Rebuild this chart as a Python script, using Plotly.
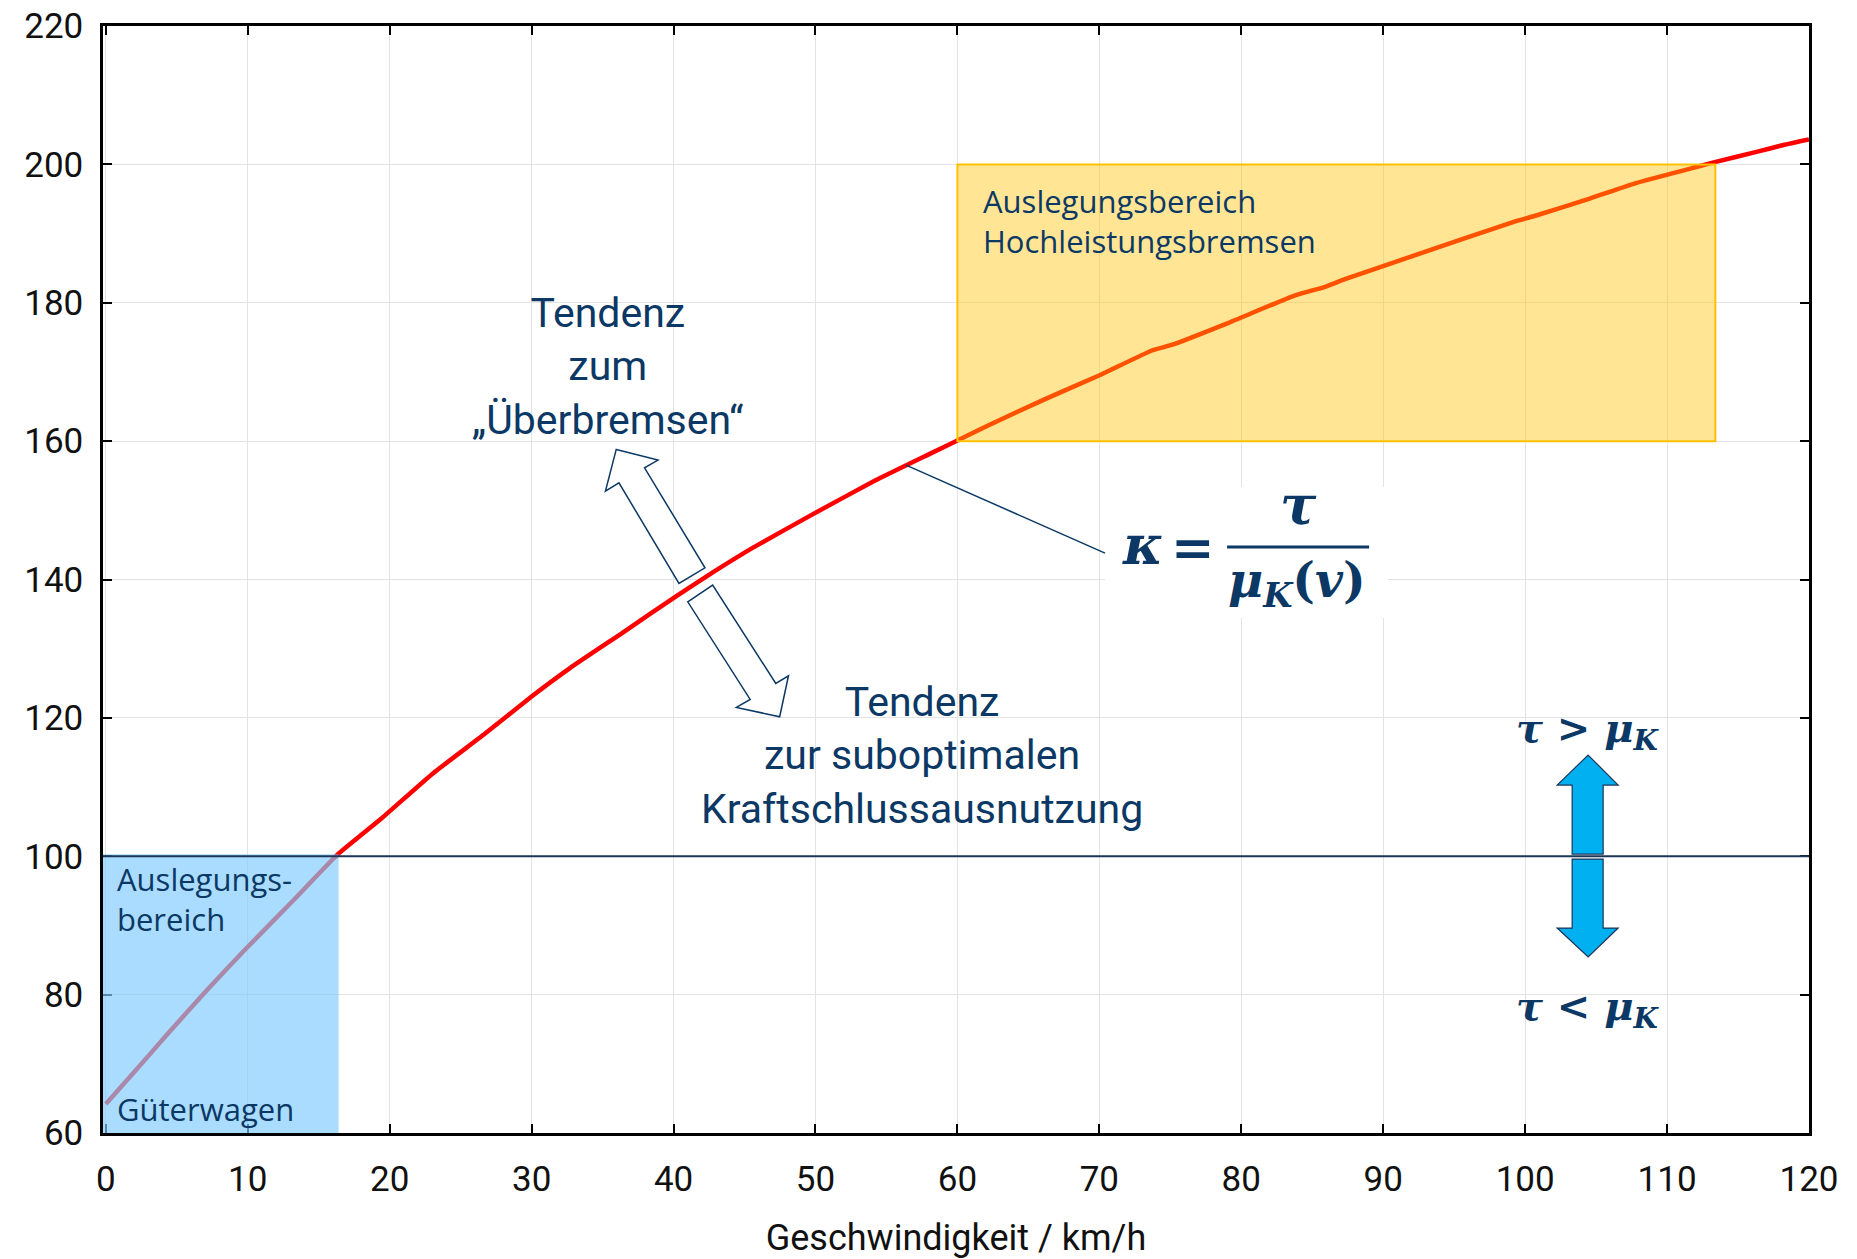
import plotly.graph_objects as go

# ---- data ----
speed_kmh = [0, 2, 4.3, 7.1, 9.9, 13.2, 16.3, 19.5, 23.0, 26.7, 30.0, 32.7, 36.4, 40.2, 42.9,
             45.6, 49.6, 54.2, 58.2, 60, 62.2, 66.1, 70.1, 73.7, 75.1, 79.1, 83.7, 85.9, 87.3,
             92.0, 99.2, 100.6, 104.6, 107.8, 112.4, 113.5, 116.3, 118.2, 120]
kappa_pct = [64.2, 68.8, 74.2, 80.6, 86.7, 93.6, 100.2, 105.6, 111.9, 117.7, 123.1, 127.2, 132.3,
             137.6, 141.2, 144.6, 149.2, 154.3, 158.3, 160.1, 162.3, 166.0, 169.6, 173.1, 173.9,
             177.1, 181.0, 182.3, 183.4, 186.7, 191.7, 192.5, 195.1, 197.3, 199.8, 200.4, 201.8,
             202.8, 203.6]
x_ticks = list(range(0, 121, 10))
y_ticks = list(range(60, 221, 20))
freight_box = [0, 16.4, 60, 100]          # x0, x1, y0, y1
highperf_box = [60, 113.4, 160, 200]
ref_level = 100

NAVY = "#0b3864"
TXT = "Roboto"
BOXFONT = "Open Sans"
MATH = "DejaVu Serif"

# helpers converting reference pixel positions (decorations only) to data units
def X(px):
    return (px - 106) / 14.19

def Y(py):
    return 60 + (1133 - py) / 6.92

fig = go.Figure()
fig.add_trace(go.Scatter(x=speed_kmh, y=kappa_pct, mode="lines",
                         line=dict(color="#ff0000", width=4.5, shape="spline", smoothing=0.4),
                         hoverinfo="skip", showlegend=False))

shapes = []
shapes.append(dict(type="rect", xref="x", yref="y", layer="above",
                   x0=freight_box[0] - 0.2, x1=freight_box[1], y0=freight_box[2], y1=freight_box[3] + 0.3,
                   fillcolor="rgba(127,203,254,0.67)", line=dict(width=0)))
shapes.append(dict(type="rect", xref="x", yref="y", layer="above",
                   x0=highperf_box[0], x1=highperf_box[1], y0=highperf_box[2], y1=highperf_box[3],
                   fillcolor="rgba(255,192,0,0.42)", line=dict(color="#ffc000", width=2)))
shapes.append(dict(type="line", xref="x", yref="y", layer="above",
                   x0=-0.2, x1=120, y0=ref_level, y1=ref_level,
                   line=dict(color="#1c3558", width=2)))
shapes.append(dict(type="rect", xref="x", yref="y", layer="above",
                   x0=X(1105), x1=X(1388), y0=Y(618), y1=Y(487),
                   fillcolor="white", line=dict(width=0)))
shapes.append(dict(type="line", xref="x", yref="y", layer="above",
                   x0=X(906), y0=Y(465), x1=X(1105), y1=Y(553),
                   line=dict(color=NAVY, width=1.5)))
shapes.append(dict(type="line", xref="x", yref="y", layer="above",
                   x0=X(1227), y0=Y(547), x1=X(1369), y1=Y(547),
                   line=dict(color=NAVY, width=3)))


def path(pts):
    return "M " + " L ".join(f"{X(a):.4f},{Y(b):.4f}" for a, b in pts) + " Z"


up_hollow = [(616.3, 449.3), (658, 460), (644.6, 467.7), (705, 567.7), (679, 583.3),
             (619, 482.7), (605.5, 491)]
down_hollow = [(687.8, 601.7), (712.7, 585), (775.8, 683.3), (788.5, 675.7), (779.7, 716.7),
               (736.4, 707.3), (750.2, 699.3)]
for p in (up_hollow, down_hollow):
    shapes.append(dict(type="path", xref="x", yref="y", layer="above", path=path(p),
                       fillcolor="white", line=dict(color=NAVY, width=1.5)))

up_blue = [(1588, 755), (1618, 785), (1603, 785), (1603, 854), (1572, 854), (1572, 785), (1557, 785)]
down_blue = [(1572, 859), (1603, 859), (1603, 928), (1618, 928), (1588, 957), (1557, 928), (1572, 928)]
for p in (up_blue, down_blue):
    shapes.append(dict(type="path", xref="x", yref="y", layer="above", path=path(p),
                       fillcolor="#00b0f0", line=dict(color="#1c3558", width=1.2)))

ann = []


def add(text, px, py, size, family=TXT, xanchor="center", align="center", color=NAVY):
    ann.append(dict(text=text, x=X(px), y=Y(py), xref="x", yref="y", showarrow=False,
                    xanchor=xanchor, yanchor="middle", align=align,
                    font=dict(family=family, size=size, color=color)))


add("Tendenz<br>zum<br>„Überbremsen“", 608, 366, 41)
add("Tendenz<br>zur suboptimalen<br>Kraftschlussausnutzung", 922, 755, 41)
add("Auslegungsbereich<br>Hochleistungsbremsen", 981, 221, 31, family=BOXFONT,
    xanchor="left", align="left")
add("Auslegungs-<br>bereich", 115, 899, 31, family=BOXFONT, xanchor="left", align="left")
add("Güterwagen", 115, 1109, 31, family=BOXFONT, xanchor="left", align="left")

add("<b><i>κ</i></b>", 1142, 545, 54, family=MATH)
add("<b>=</b>", 1193, 547, 52, family=MATH)
add("<b><i>τ</i></b>", 1298, 505, 54, family=MATH)
add("<b><i>μ</i><sub><i>K</i></sub>(<i>v</i>)</b>", 1297, 583, 48, family=MATH)
add("<b><i>τ</i> &gt; <i>μ</i><sub><i>K</i></sub></b>", 1588, 730, 40, family=MATH)
add("<b><i>τ</i> &lt; <i>μ</i><sub><i>K</i></sub></b>", 1588, 1008, 40, family=MATH)

axis_common = dict(showline=True, linecolor="black", linewidth=2.5, mirror="ticks",
                   ticks="inside", ticklen=9, tickwidth=2, tickcolor="black",
                   showgrid=True, gridcolor="#e3e3e3", gridwidth=1, zeroline=False,
                   automargin=False,
                   tickfont=dict(family=TXT, size=35, color="#111111"))

fig.update_layout(
    width=1857, height=1259,
    margin=dict(l=103, r=48, t=26, b=126),
    paper_bgcolor="white", plot_bgcolor="white",
    shapes=shapes, annotations=ann,
    xaxis=dict(range=[-0.2, 120], tickvals=x_ticks, ticklabelstandoff=13,
               title=dict(text="Geschwindigkeit / km/h", standoff=30,
                          font=dict(family=TXT, size=36, color="#111111")),
               **axis_common),
    yaxis=dict(range=[60, 220], tickvals=y_ticks, ticklabelstandoff=10, **axis_common),
)

fig.write_html("out.html", config={"displayModeBar": False},
               post_script="document.body.style.margin='0px';document.body.style.overflow='hidden';")
